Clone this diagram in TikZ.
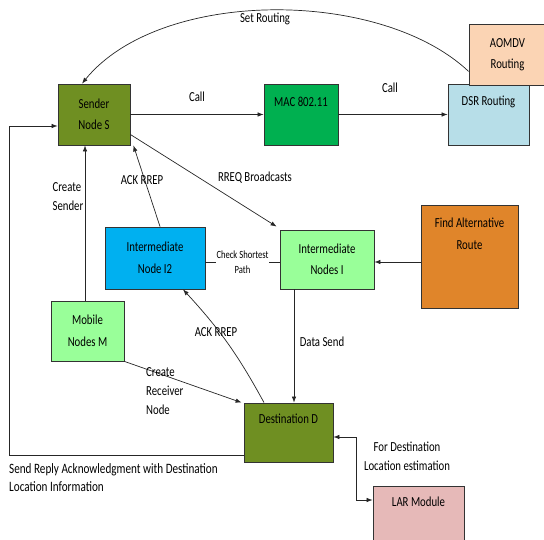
\documentclass[tikz,border=0pt]{standalone}
\usepackage{fontspec}
\setmainfont{Carlito}[FakeStretch=0.78]
\usetikzlibrary{arrows.meta}
\definecolor{sendergreen}{HTML}{6F8F22}
\definecolor{macgreen}{HTML}{00B050}
\definecolor{dsrblue}{HTML}{B7DEE8}
\definecolor{aomdvpeach}{HTML}{FBD4B4}
\definecolor{interblue}{HTML}{00B0F0}
\definecolor{palegreen}{HTML}{99FF99}
\definecolor{altorange}{HTML}{E0852A}
\definecolor{larpink}{HTML}{E6B9B8}

\begin{document}
\begin{tikzpicture}[
		x=1pt, y=-1pt,
		box/.style={draw=black!80, line width=0.8pt, align=center, inner sep=2pt,
			font=\fontsize{13.8}{21.5}\selectfont},
		toptext/.style={text depth=#1},
		lbl/.style={font=\fontsize{13.8}{19}\selectfont, align=center, inner sep=1pt},
		flow/.style={draw=black!85, line width=0.7pt, -{Latex[length=6pt,width=4.5pt]}},
		link/.style={draw=black!85, line width=0.7pt},
		both/.style={flow, {Latex[length=6pt,width=4.5pt]}-{Latex[length=6pt,width=4.5pt]}},
	]

	% page
	\useasboundingbox (0,0) rectangle (544,540);
	\clip (0,0) rectangle (544,540);

	% top row
	\node[box, fill=sendergreen, minimum width=72pt, minimum height=61pt] (sender) at (94,114.5) {Sender\\Node S};
	\node[box, fill=macgreen, minimum width=74pt, minimum height=61pt, toptext=26pt] (mac) at (301,114.5) {MAC 802.11};
	\node[box, fill=dsrblue, minimum width=81pt, minimum height=61pt, toptext=28pt] (dsr) at (488.5,114.5) {DSR Routing};
	\node[box, fill=aomdvpeach, minimum width=77pt, minimum height=61pt] (aomdv) at (507.5,54.5) {AOMDV\\Routing};

	% middle row
	\node[box, fill=interblue, minimum width=100pt, minimum height=62pt] (i2) at (155,258) {Intermediate\\Node I2};
	\node[box, fill=palegreen, minimum width=94pt, minimum height=59pt] (inode) at (327,259.5) {Intermediate\\Nodes I};
	\node[box, fill=altorange, minimum width=97pt, minimum height=103pt, toptext=46pt] (alt) at (469.5,256.5) {Find Alternative\\Route};

	% bottom rows
	\node[box, fill=palegreen, minimum width=73pt, minimum height=60pt] (mobile) at (87.5,331) {Mobile\\Nodes M};
	\node[box, fill=sendergreen, minimum width=89pt, minimum height=59pt, toptext=27pt] (dest) at (288.5,432.5) {Destination D};
	\node[box, fill=larpink, minimum width=91pt, minimum height=68pt, toptext=36pt] (lar) at (418.5,520) {LAR Module};

	% corners of the elbow lines
	\coordinate (loopcorner) at (9,126);
	\coordinate (larcorner) at (356,500);

	% connectors
	\draw[flow] (sender) -- (mac);
	\draw[flow] (mac) -- (dsr);
	\draw[flow] ([yshift=14pt]aomdv.south west) .. controls (380,-12) and (160,-12) .. ([xshift=-12pt]sender.north);
	\draw[flow] ([yshift=-20pt]sender.east) -- ([xshift=-3pt,yshift=3pt]inode.north west);
	\draw[flow] ([xshift=5pt]i2.north) -- ([xshift=3pt]sender.south east);
	\draw[flow] ([xshift=-2.5pt]mobile.north) -- ([xshift=-2.5pt]mobile.north |- sender.south);
	\draw[link] ([yshift=-4pt]i2.east) -- node[lbl, fill=white, font=\fontsize{11}{15}\selectfont] (chklbl) {Check Shortest\\Path} ([yshift=-2.5pt]inode.west);
	\draw[flow] ([yshift=-5.5pt]alt.west) -- ([yshift=-2.5pt]inode.east);
	\draw[flow] ([xshift=-33pt]inode.south) -- ([xshift=-33pt]inode.south |- dest.north);
	\draw[flow] ([xshift=-24.5pt]dest.north) to[bend right=7] ([xshift=28pt]i2.south);
	\draw[flow] (mobile.south east) -- ([xshift=-2pt]dest.north west);
	\draw[flow] ([yshift=-22.5pt]dest.west) -| (loopcorner) -- ([yshift=-11.5pt]sender.west);
	\draw[both] ([yshift=-4.5pt]dest.east) -| (larcorner) -- (lar.west |- larcorner);

	% labels
	\node[lbl] (setlbl) at (265,19) {Set Routing};
	\node[lbl] (call1) at (197,97) {Call};
	\node[lbl] (call2) at (390,88) {Call};
	\node[lbl] (rreqlbl) at (255,178) {RREQ Broadcasts};
	\node[lbl] (ack1) at (142,180) {ACK RREP};
	\node[lbl, align=left] (senderlbl) at (68,197) {Create\\Sender};
	\node[lbl] (datalbl) at (322,342) {Data Send};
	\node[lbl] (ack2) at (216,332) {ACK RREP};
	\node[lbl, align=left, anchor=north west] (recvlbl) at (145,366) {Create\\Receiver\\Node};
	\node[lbl, align=left, anchor=north west, font=\fontsize{14.3}{18}\selectfont] (replylbl) at (8,462) {Send Reply Acknowledgment with Destination\\Location Information};
	\node[lbl] (forlbl) at (407,456) {For Destination\\Location estimation};

\end{tikzpicture}
\end{document}
